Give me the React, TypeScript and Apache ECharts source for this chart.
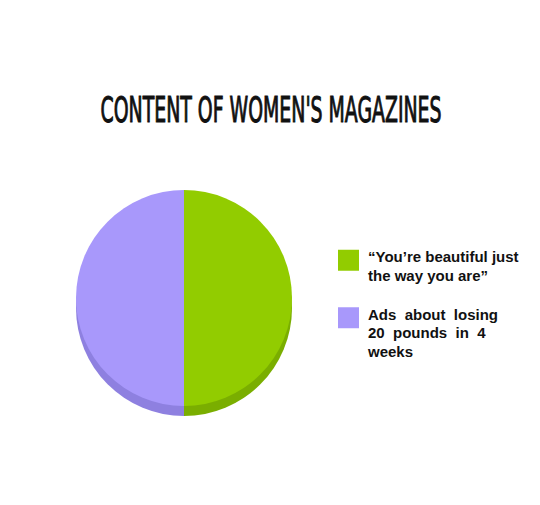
import React, { useEffect, useRef } from "react";
import * as echarts from "echarts";

const title = "CONTENT OF WOMEN'S MAGAZINES";
const categories = [
  "\u201cYou\u2019re beautiful just\nthe way you are\u201d",
  "Ads  about  losing\n20  pounds  in  4\nweeks",
];
const values = [50, 50];
const topColors = ["#92cc00", "#a898fb"];
const sideColors = ["#7aae00", "#8e80e0"];

export default function App() {
  const ref = useRef<HTMLDivElement>(null);
  useEffect(() => {
    document.body.style.margin = "0";
    const chart = echarts.init(ref.current!, null, { renderer: "svg" });
    const data = categories.map((c, i) => ({
      name: c,
      value: values[i],
      itemStyle: { color: topColors[i] },
    }));
    const sideData = categories.map((c, i) => ({
      name: c + " ",
      value: values[i],
      itemStyle: { color: sideColors[i] },
    }));
    const legendText = {
      fontFamily: "Liberation Sans, Arial, sans-serif",
      fontWeight: "bold" as const,
      fontSize: 15,
      lineHeight: 18.5,
      color: "#111",
      rich: { a: {} },
    };
    chart.setOption({
      animation: false,
      backgroundColor: "#ffffff",
      graphic: [
        {
          type: "text",
          x: 271,
          y: 109,
          scaleY: 1.73,
          style: {
            text: title,
            font: '21px "Liberation Sans Narrow", "DejaVu Sans Condensed", sans-serif',
            fill: "#111",
            stroke: "#111",
            lineWidth: 0.6,
            align: "center",
            verticalAlign: "middle",
          },
        },
      ],
      legend: [
        {
          data: [{ name: categories[0], textStyle: { ...legendText, padding: [11.5, 0, 0, 4] } }],
          left: 338,
          top: 236,
          padding: 0,
          orient: "vertical",
          icon: "rect",
          itemWidth: 21,
          itemHeight: 21,
          selectedMode: false,
        },
        {
          data: [{ name: categories[1], textStyle: { ...legendText, padding: [30, 0, 0, 4] } }],
          left: 338,
          top: 275,
          padding: 0,
          orient: "vertical",
          icon: "rect",
          itemWidth: 21,
          itemHeight: 21,
          selectedMode: false,
        },
      ],
      series: [
        {
          type: "pie",
          silent: true,
          center: [184, 308],
          radius: [0, 108],
          startAngle: 90,
          clockwise: true,
          label: { show: false },
          labelLine: { show: false },
          data: sideData,
        },
        {
          type: "pie",
          silent: true,
          center: [184, 298],
          radius: [0, 108],
          startAngle: 90,
          clockwise: true,
          label: { show: false },
          labelLine: { show: false },
          data,
        },
      ],
    });
    return () => chart.dispose();
  }, []);
  return <div ref={ref} style={{ width: 540, height: 505, position: "absolute", left: 0, top: 0 }} />;
}
